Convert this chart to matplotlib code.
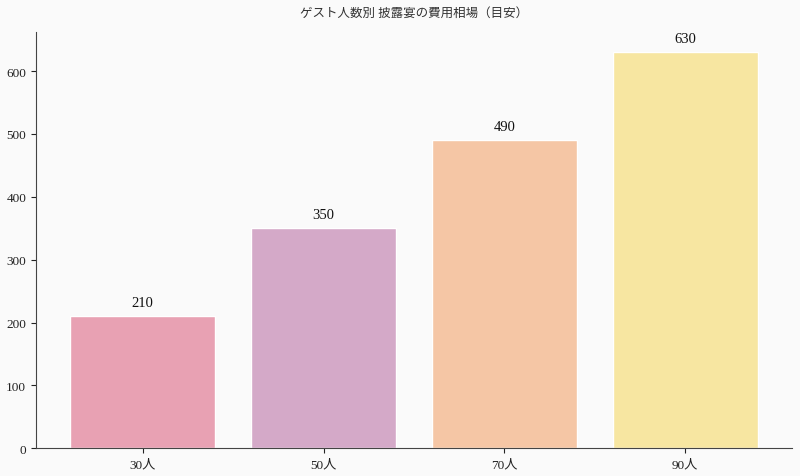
import matplotlib
matplotlib.use("Agg")
import matplotlib.pyplot as plt

plt.rcParams["font.family"] = ["Liberation Serif", "Noto Sans CJK JP", "DejaVu Sans"]

CATEGORIES = ["30人", "50人", "70人", "90人"]
VALUES = [210, 350, 490, 630]
COLORS = ["#E8A1B3", "#D4A9C8", "#F5C6A5", "#F7E6A1"]
TITLE = "ゲスト人数別 披露宴の費用相場（目安）"

fig, ax = plt.subplots(figsize=(8.0, 4.77), dpi=100)
fig.patch.set_facecolor("#FAFAFA")
ax.set_facecolor("#FAFAFA")

bars = ax.bar(CATEGORIES, VALUES, width=0.8, color=COLORS, edgecolor="white", linewidth=1.0)
for rect, v in zip(bars, VALUES):
    ax.annotate(
        f"{v}",
        (rect.get_x() + rect.get_width() / 2, rect.get_height()),
        xytext=(0, 5),
        textcoords="offset points",
        ha="center",
        va="bottom",
        fontsize=10.5,
        color="#111111",
    )

ax.set_ylim(0, max(VALUES) * 1.05)
ax.spines["top"].set_visible(False)
ax.spines["right"].set_visible(False)
for s in ("left", "bottom"):
    ax.spines[s].set_color("#444444")
ax.tick_params(colors="#222222", labelsize=9.5)
ax.set_title(TITLE, fontsize=9, color="#333333", pad=12)

fig.subplots_adjust(left=0.045, right=0.99, top=0.93, bottom=0.058)
fig.savefig("out.png", dpi=100, facecolor=fig.get_facecolor())
